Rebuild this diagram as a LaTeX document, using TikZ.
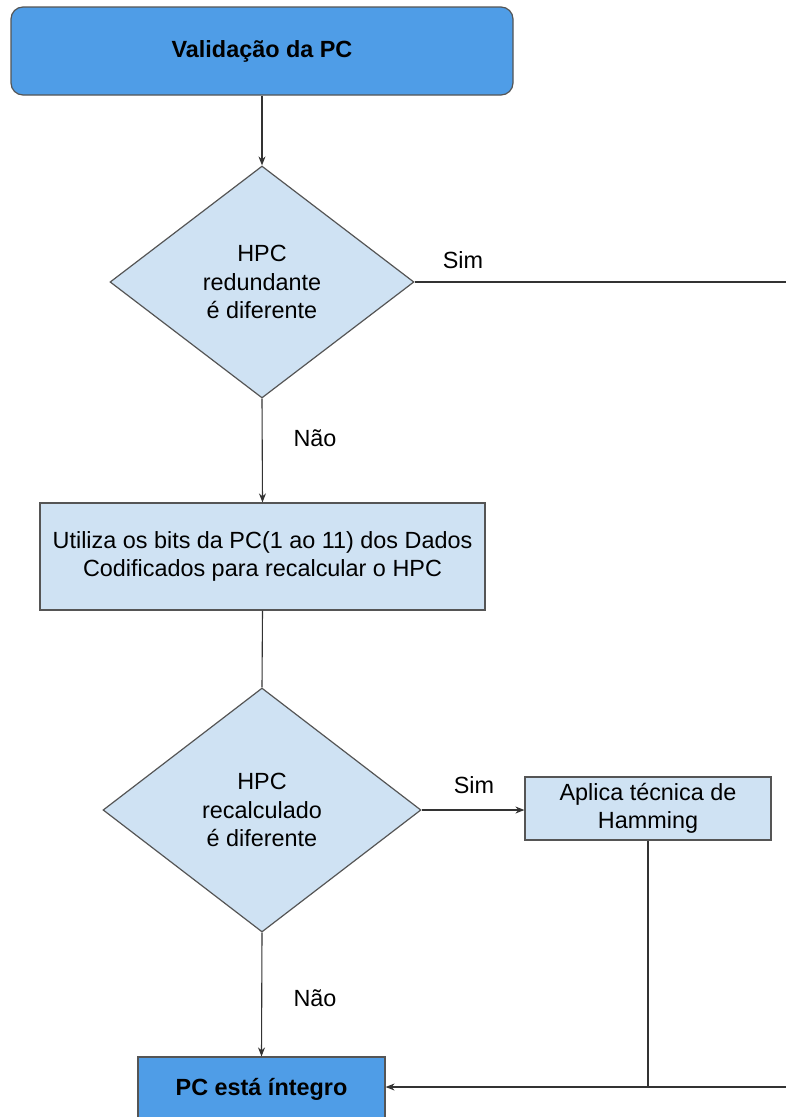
\documentclass[tikz,border=0pt]{standalone}
\usepackage{fontspec}
\setmainfont{Liberation Sans}
\usetikzlibrary{shapes.geometric,arrows.meta}
\definecolor{startblue}{HTML}{4F9DE7}
\definecolor{paleblue}{HTML}{CFE2F3}
\definecolor{edgegray}{HTML}{555555}
\definecolor{linegray}{HTML}{333333}
\begin{document}
\begin{tikzpicture}[x=1pt,y=-1pt,
  every node/.style={font=\fontsize{23.4}{28.5}\selectfont, text=black},
  box/.style={draw=edgegray, line width=1.2pt, fill=paleblue, inner sep=0pt, align=center},
  keybox/.style={box, fill=startblue, font=\fontsize{23.4}{28.5}\selectfont\bfseries},
  decision/.style={draw=edgegray, line width=1.2pt, fill=paleblue, diamond, inner sep=0pt, align=center},
  flow/.style={draw=linegray, line width=1.1pt},
  arrowflow/.style={flow, -{Stealth[length=9pt,width=7pt]}},
  tag/.style={inner sep=0pt}
]
\clip (0,0) rectangle (786,1117);
\fill[white] (0,0) rectangle (786,1117);

% process steps
\node[keybox, rounded corners=12pt, minimum width=502pt, minimum height=88pt] (start) at (262,51) {Validação da PC};
\node[decision, minimum width=304pt, minimum height=232pt] (redund) at (262,282) {HPC\\redundante\\é diferente};
\node[box, minimum width=445pt, minimum height=107pt] (recalc) at (262.5,556.5) {Utiliza os bits da PC(1 ao 11) dos Dados\\Codificados para recalcular o HPC};
\node[decision, minimum width=318pt, minimum height=244pt] (differs) at (262,810) {HPC\\recalculado\\é diferente};
\node[box, minimum width=246pt, minimum height=63pt] (hamming) at (648,808.5) {Aplica técnica de\\Hamming};
\node[keybox, minimum width=247pt, minimum height=64pt] (intact) at (261.5,1089) {PC está íntegro};

% loose ends running off to the right
\coordinate (offtop) at (786,282);
\coordinate (offbottom) at (786,1087);
\coordinate (merge) at (648,1087);

% connectors
\draw[arrowflow] (start.south) -- (redund.north);
\draw[flow] (redund.east) -- (offtop);
\draw[arrowflow] (redund.south) -- (recalc.north);
\draw[flow] (recalc.south) -- (differs.north);
\draw[arrowflow] (differs.east) -- (differs.east -| hamming.west);
\draw[arrowflow] (differs.south) -- (intact.north);
\draw[flow] (hamming.south) -- (merge);
\draw[arrowflow] (offbottom) -- (offbottom -| intact.east);

% branch labels
\node[tag] (sim1) at (463,260) {Sim};
\node[tag] (nao1) at (315,438) {Não};
\node[tag] (sim2) at (474,785) {Sim};
\node[tag] (nao2) at (315,998) {Não};
\end{tikzpicture}
\end{document}
